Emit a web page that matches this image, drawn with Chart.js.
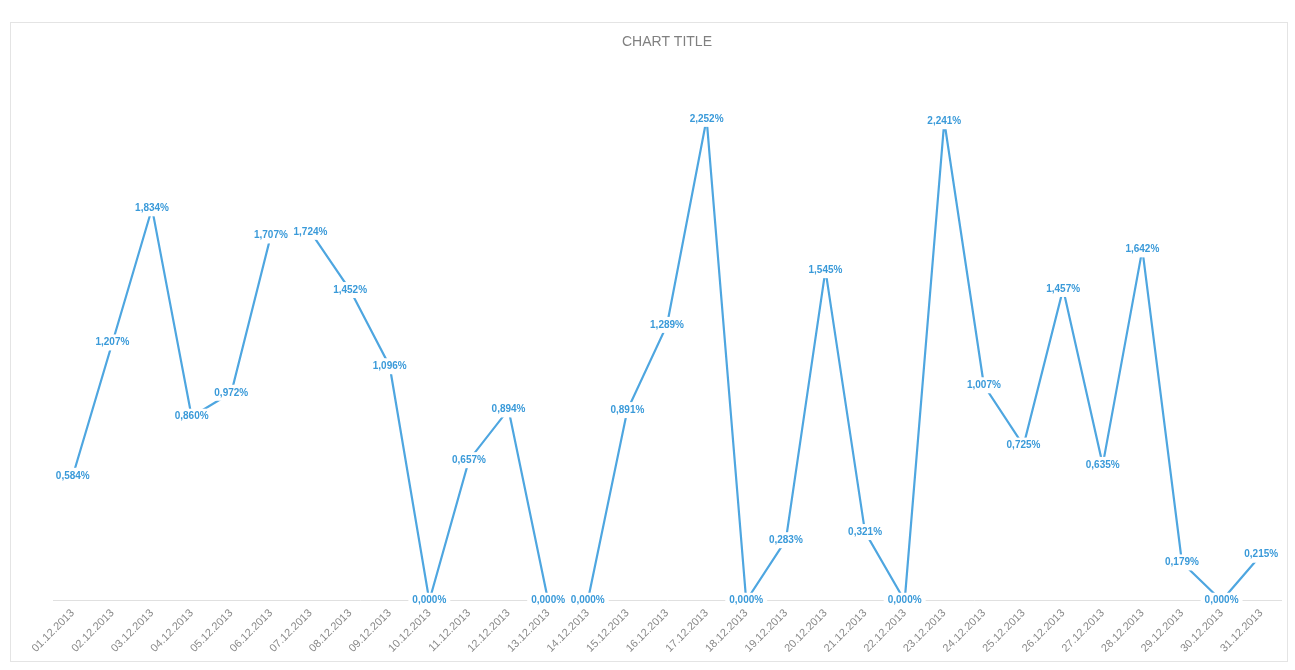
<!DOCTYPE html>
<html>
<head>
<meta charset="utf-8">
<script src="https://cdn.jsdelivr.net/npm/chart.js@4.4.1/dist/chart.umd.min.js"></script>
<style>
  html, body { margin: 0; padding: 0; background: #ffffff; }
  #wrap { position: absolute; left: 0; top: 0; width: 1295px; height: 670px; }
  #frame { position: absolute; left: 10px; top: 22px; width: 1278px; height: 640px; border: 1px solid #e4e4e4; box-sizing: border-box; }
</style>
</head>
<body>
<div id="wrap">
  <div id="frame"></div>
  <canvas id="c" width="1295" height="670"></canvas>
</div>
<script>
const categories = [
  "01.12.2013","02.12.2013","03.12.2013","04.12.2013","05.12.2013","06.12.2013","07.12.2013",
  "08.12.2013","09.12.2013","10.12.2013","11.12.2013","12.12.2013","13.12.2013","14.12.2013",
  "15.12.2013","16.12.2013","17.12.2013","18.12.2013","19.12.2013","20.12.2013","21.12.2013",
  "22.12.2013","23.12.2013","24.12.2013","25.12.2013","26.12.2013","27.12.2013","28.12.2013",
  "29.12.2013","30.12.2013","31.12.2013"
];
const values = [
  0.584, 1.207, 1.834, 0.860, 0.972, 1.707, 1.724,
  1.452, 1.096, 0.000, 0.657, 0.894, 0.000, 0.000,
  0.891, 1.289, 2.252, 0.000, 0.283, 1.545, 0.321,
  0.000, 2.241, 1.007, 0.725, 1.457, 0.635, 1.642,
  0.179, 0.000, 0.215
];
const chartTitle = "CHART TITLE";

const lineColor = "#4ea6e0";
const labelColor = "#3a9ad9";

const pointLabels = {
  id: "pointLabels",
  afterDatasetsDraw(chart) {
    const ctx = chart.ctx;
    const meta = chart.getDatasetMeta(0);
    ctx.save();
    ctx.font = "bold 10px 'Liberation Sans', Arial, sans-serif";
    ctx.textAlign = "center";
    ctx.textBaseline = "middle";
    meta.data.forEach((pt, i) => {
      const txt = values[i].toFixed(3).replace(".", ",") + "%";
      const w = ctx.measureText(txt).width;
      ctx.fillStyle = "#ffffff";
      ctx.fillRect(pt.x - w / 2 - 4, pt.y - 8, w + 8, 16);
      ctx.fillStyle = labelColor;
      ctx.fillText(txt, pt.x, pt.y);
    });
    ctx.restore();
  }
};

new Chart(document.getElementById("c"), {
  type: "line",
  data: {
    labels: categories,
    datasets: [{
      data: values,
      borderColor: lineColor,
      borderWidth: 2.2,
      pointRadius: 0,
      pointHoverRadius: 0,
      tension: 0,
      fill: false
    }]
  },
  options: {
    responsive: false,
    animation: false,
    layout: { padding: { left: 53, right: 14, top: 26, bottom: 9 } },
    plugins: {
      legend: { display: false },
      tooltip: { enabled: false },
      title: {
        display: true,
        text: chartTitle,
        color: "#808080",
        font: { family: "'Liberation Sans', Arial, sans-serif", size: 14, weight: "normal" },
        padding: { top: 8, bottom: 15 }
      }
    },
    scales: {
      x: {
        offset: true,
        grid: { display: false, drawTicks: false },
        border: { display: true, color: "#e0e0e0" },
        ticks: {
          color: "#8a8a8a",
          font: { family: "'Liberation Sans', Arial, sans-serif", size: 11 },
          minRotation: 45,
          maxRotation: 45,
          autoSkip: false,
          padding: 6
        }
      },
      y: {
        display: false,
        min: 0,
        max: 2.5
      }
    }
  },
  plugins: [pointLabels]
});
</script>
</body>
</html>
